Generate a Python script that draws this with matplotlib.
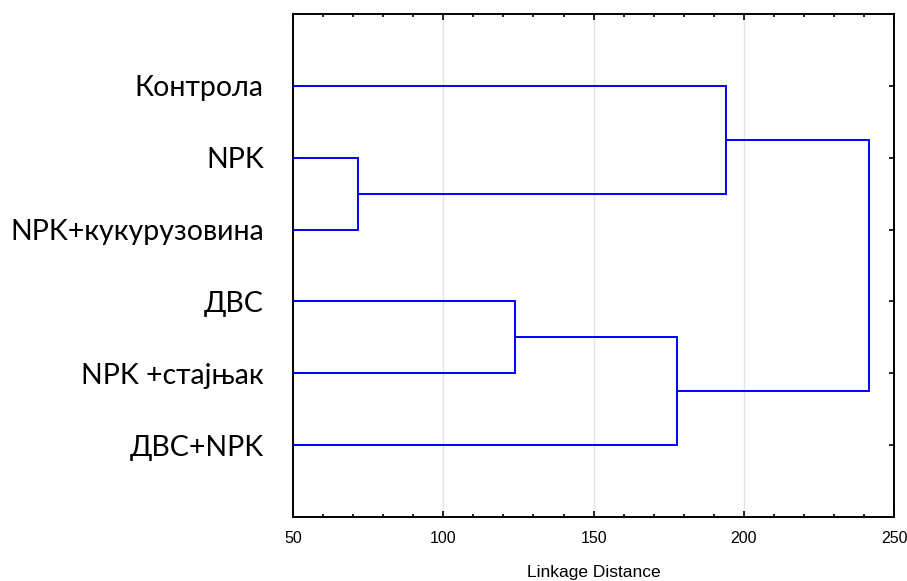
import matplotlib
matplotlib.use("Agg")
import matplotlib.pyplot as plt
from matplotlib.ticker import MultipleLocator

# leaves, top to bottom
leaves = ["Контрола", "NPK", "NPK+кукурузовина", "ДВС", "NPK +стајњак", "ДВС+NPK"]
# merges: (left node, right node, linkage distance); nodes 0..5 are leaves, 6.. are clusters
merges = [
    (1, 2, 71.6),
    (3, 4, 123.9),
    (7, 5, 177.8),
    (0, 6, 194.1),
    (9, 8, 241.7),
]
x_ticks = [50, 100, 150, 200, 250]

fig = plt.figure(figsize=(9.07, 5.81), dpi=100)
ax = fig.add_axes([0.323, 0.110, 0.663, 0.866])

line_color = "#0000ff"
pos = {i: (i + 1, 0.0) for i in range(len(leaves))}
for k, (a, b, h) in enumerate(merges):
    ya, xa = pos[a]
    yb, xb = pos[b]
    ax.plot([xa, h, h, xb], [ya, ya, yb, yb], color=line_color, lw=1.4,
            solid_joinstyle="miter", zorder=3)
    pos[len(leaves) + k] = ((ya + yb) / 2, h)

ax.set_xlim(50, 250)
ax.set_ylim(len(leaves) + 1, 0)
ax.set_xticks(x_ticks)
ax.set_xticklabels([str(t) for t in x_ticks], fontfamily="Liberation Sans", fontsize=11.5)
ax.xaxis.set_minor_locator(MultipleLocator(10))
ax.set_yticks(range(1, len(leaves) + 1))
ax.set_yticklabels(leaves, fontfamily=["Lato", "Open Sans", "DejaVu Sans"], fontsize=20.5)

ax.tick_params(axis="both", which="both", direction="in", top=True, right=True,
               width=1.2, color="black")
ax.tick_params(axis="x", which="major", length=4, pad=10)
ax.tick_params(axis="x", which="minor", length=2.5)
ax.tick_params(axis="y", length=3.5, pad=21)

ax.grid(axis="x", color="#e3e3e3", lw=1.0, zorder=0)
for s in ax.spines.values():
    s.set_linewidth(1.4)

ax.set_xlabel("Linkage Distance", fontfamily="Liberation Sans", fontsize=12.5, labelpad=14)

fig.savefig("out.png", dpi=100)
